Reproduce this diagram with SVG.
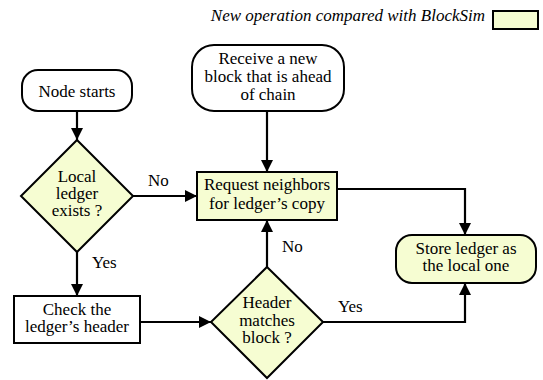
<svg xmlns="http://www.w3.org/2000/svg" width="543" height="380" viewBox="0 0 543 380">
<defs>
<style>
.t{font-size:17px;fill:#000;text-anchor:middle}
.l{font-size:17px;fill:#000}
.n{fill:#fff;stroke:#000;stroke-width:2}
.y{fill:#f6fdd2;stroke:#000;stroke-width:2}
.c{fill:none;stroke:#000;stroke-width:2.2}
</style>
<marker id="ah" markerUnits="userSpaceOnUse" markerWidth="14" markerHeight="14" refX="13" refY="7" orient="auto">
<path d="M1,1 L13,7 L1,13 Z" fill="#000"/>
</marker>
</defs>
<rect width="543" height="380" fill="#fff"/>
<g font-family="Liberation Serif, serif">
<g id="legend">
<text class="l" x="485" y="21" text-anchor="end" font-style="italic">New operation compared with BlockSim</text>
<rect class="y" x="493" y="11" width="45" height="18"/>
</g>
<g id="connectors">
<path class="c" d="M77,111 V140" marker-end="url(#ah)"/>
<path class="c" d="M133,196 H197" marker-end="url(#ah)"/>
<path class="c" d="M267,111 V172" marker-end="url(#ah)"/>
<path class="c" d="M337,189 H465 V235" marker-end="url(#ah)"/>
<path class="c" d="M77,252 V296" marker-end="url(#ah)"/>
<path class="c" d="M140,322 H211" marker-end="url(#ah)"/>
<path class="c" d="M267,267 V220" marker-end="url(#ah)"/>
<path class="c" d="M323,322 H465 V283" marker-end="url(#ah)"/>
<text class="l" x="148" y="186">No</text>
<text class="l" x="92" y="268">Yes</text>
<text class="l" x="282" y="252">No</text>
<text class="l" x="338" y="312">Yes</text>
</g>
<g id="node-starts">
<rect class="n" x="22" y="70" width="110" height="41" rx="16"/>
<text class="t" x="77" y="97">Node starts</text>
</g>
<g id="receive-block">
<rect class="n" x="192" y="45" width="152" height="66" rx="22"/>
<text class="t" x="268" y="64">Receive a new</text>
<text class="t" x="268" y="82">block that is ahead</text>
<text class="t" x="268" y="100">of chain</text>
</g>
<g id="local-ledger">
<path class="y" d="M77,140 L133,196 L77,252 L21,196 Z"/>
<text class="t" x="77" y="182">Local</text>
<text class="t" x="77" y="199">ledger</text>
<text class="t" x="77" y="216">exists ?</text>
</g>
<g id="request-neighbors">
<rect class="y" x="197" y="172" width="140" height="48"/>
<text class="t" x="267" y="190">Request neighbors</text>
<text class="t" x="267" y="209">for ledger’s copy</text>
</g>
<g id="store-ledger">
<rect class="y" x="396" y="235" width="140" height="48" rx="16"/>
<text class="t" x="466" y="254">Store ledger as</text>
<text class="t" x="466" y="271">the local one</text>
</g>
<g id="check-header">
<rect class="n" x="14" y="296" width="126" height="47"/>
<text class="t" x="77" y="315">Check the</text>
<text class="t" x="77" y="332">ledger’s header</text>
</g>
<g id="header-matches">
<path class="y" d="M267,267 L323,322 L267,378 L211,322 Z"/>
<text class="t" x="267" y="308">Header</text>
<text class="t" x="267" y="326">matches</text>
<text class="t" x="267" y="343">block ?</text>
</g>
</g>
</svg>
